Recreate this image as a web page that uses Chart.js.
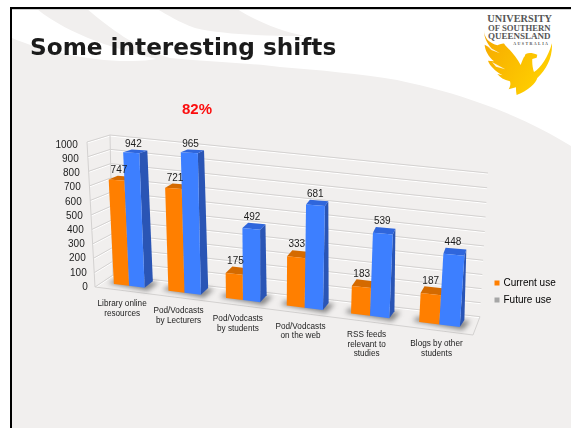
<!DOCTYPE html>
<html lang="en">
<head>
<meta charset="utf-8">
<title>Some interesting shifts</title>
<script src="https://cdn.jsdelivr.net/npm/chart.js@4/dist/chart.umd.min.js"></script>
<style>
  html, body { margin: 0; padding: 0; background: #fff; }
  #slide { position: relative; width: 571px; height: 428px; overflow: hidden; }
  #slide svg, #slide canvas { position: absolute; left: 0; top: 0; }
  #heading { position: absolute; left: 30px; top: 33px; margin: 0; font: bold 23.2px "DejaVu Sans", sans-serif; color: #1b1b1b; white-space: nowrap; }
  #callout { position: absolute; left: 182px; top: 100px; font: bold 15px "Liberation Sans", sans-serif; color: #fb0d0d; }
</style>
</head>
<body>
<div id="slide">
  <svg width="571" height="428" viewBox="0 0 571 428">
    <defs>
      <linearGradient id="gold" x1="0" y1="0" x2="1" y2="0.6">
        <stop offset="0" stop-color="#f6a800"/>
        <stop offset="1" stop-color="#ffd000"/>
      </linearGradient>
    </defs>
    <!-- slide backdrop with its sweeping bands -->
    <path fill="#f1efee" d="M12,38 C40,50 90,62 133,61 C142,61 150,60 156,59 C120,50 70,36 37,9 L87,9 C110,28 135,48 170,58 C210,62 250,63 280,67 C320,70 360,74 397,80 C430,87 455,94 480,103 C515,115 545,130 571,146 L571,428 L12,428 Z"/>
    <path fill="#f1efee" d="M157,9 L237,9 C255,20 275,30 305,36 C270,36 225,35 195,28 C178,22 168,15 157,9 Z"/>
    <rect x="12" y="9" width="559" height="1" fill="#cfcfcf"/>
    <rect x="10" y="7" width="561" height="2" fill="#000"/>
    <rect x="10" y="7" width="2" height="421" fill="#000"/>
    <!-- university crest -->
    <g transform="translate(280 0) scale(0.3333)">
      <path fill="url(#gold)" d="M612,90 C612,112 625,128 652,136 C668,130 672,128 675,135 C695,155 712,175 722,195 C727,182 730,172 735,168 C733,160 750,154 772,164 L770,173 L757,177 C756,190 758,205 762,216 C782,205 805,170 816,130 C818,172 800,208 772,234 C768,250 745,272 710,285 C708,275 708,268 708,262 L686,268 C692,258 692,250 690,244 C672,240 660,232 652,222 L668,226 C645,212 630,198 624,182 L642,184 C625,170 615,150 614,134 L636,146 C620,130 612,112 612,90 Z"/>
      <path fill="#fff" opacity="0.85" d="M622,138 L660,160 L634,150 Z M636,186 L676,208 L648,200 Z"/>
      <g font-family="Liberation Serif" font-weight="bold" fill="#555" text-anchor="start">
        <text x="622" y="67" font-size="31" textLength="194" lengthAdjust="spacingAndGlyphs">UNIVERSITY</text>
        <text x="624" y="92" font-size="26" textLength="188" lengthAdjust="spacingAndGlyphs">OF SOUTHERN</text>
        <text x="624" y="116" font-size="27" textLength="188" lengthAdjust="spacingAndGlyphs">QUEENSLAND</text>
        <text x="700" y="135" font-size="12" textLength="104" lengthAdjust="spacing">AUSTRALIA</text>
      </g>
    </g>
  </svg>
  <canvas id="usage" width="571" height="428"></canvas>
  <h1 id="heading">Some interesting shifts</h1>
  <div id="callout">82%</div>
</div>
<script>
// Survey results: current and expected use of each learning resource.
const categories = [
  ['Library online', 'resources'],
  ['Pod/Vodcasts', 'by Lecturers'],
  ['Pod/Vodcasts', 'by students'],
  ['Pod/Vodcasts', 'on the web'],
  ['RSS feeds', 'relevant to', 'studies'],
  ['Blogs by other', 'students']
];
const currentUse = [747, 721, 175, 333, 183, 187];
const futureUse = [942, 965, 492, 681, 539, 448];
const seriesNames = ['Current use', 'Future use'];
const valueTicks = [0, 100, 200, 300, 400, 500, 600, 700, 800, 900, 1000];

const FONT = '"Liberation Sans", Arial, sans-serif';
const palette = [
  { front: '#ff7f00', side: '#c96400', top: '#d46a00', key: '#ff7f00' },
  { front: '#3d7fff', side: '#2a55b5', top: '#2f66dc', key: '#a6a6a6' }
];

// Builds a mapping from the unit square onto a four-cornered plane,
// given as [bottom-left, bottom-right, top-right, top-left].
function planeMap(q) {
  const [[x0, y0], [x1, y1], [x2, y2], [x3, y3]] = q;
  const dx1 = x1 - x2, dx2 = x3 - x2, sx = x0 - x1 + x2 - x3;
  const dy1 = y1 - y2, dy2 = y3 - y2, sy = y0 - y1 + y2 - y3;
  const det = dx1 * dy2 - dx2 * dy1;
  const g = (sx * dy2 - dx2 * sy) / det;
  const h = (dx1 * sy - sx * dy1) / det;
  const a = x1 - x0 + g * x1, b = x3 - x0 + h * x3;
  const d = y1 - y0 + g * y1, e = y3 - y0 + h * y3;
  return (s, r) => {
    const w = g * s + h * r + 1;
    return [(a * s + b * r + x0) / w, (d * s + e * r + y0) / w];
  };
}

// Planes of the tilted view: bar fronts, bar backs, rear wall, open front edge.
const barFront = planeMap([[102.5, 282.5], [475.5, 329], [487, 164], [95, 142]]);
const barBack = planeMap([[111.5, 276], [480, 322], [485, 160.5], [104.5, 139.8]]);
const rearWall = planeMap([[113, 275], [480, 316.7], [488, 173], [110, 135]]);
const frontEdge = planeMap([[95, 287], [473, 335], [470, 165], [87, 142]]);

function polygon(ctx, pts) {
  ctx.beginPath();
  pts.forEach((p, i) => (i ? ctx.lineTo(p[0], p[1]) : ctx.moveTo(p[0], p[1])));
  ctx.closePath();
}

function segment(ctx, a, b) {
  ctx.beginPath();
  ctx.moveTo(a[0], a[1]);
  ctx.lineTo(b[0], b[1]);
  ctx.stroke();
}

// Converts a pixel from the chart's own scales into unit-square coordinates.
function unit(chart, px, py) {
  const { left, right, top, bottom } = chart.chartArea;
  return [(px - left) / (right - left), (bottom - py) / (bottom - top)];
}

const perspectiveView = {
  id: 'perspectiveView',

  // The bars are painted in afterDatasetsDraw as solid blocks.
  beforeDatasetDraw() { return false; },

  afterLayout(chart) {
    // Legend sits beside the chart, low on the right.
    const lg = chart.legend;
    const w = lg.width;
    lg.left = 488.5; lg.right = lg.left + w;
    lg.top = 271; lg.bottom = 330;
  },

  beforeDatasetsDraw(chart) {
    const ctx = chart.ctx, yScale = chart.scales.y, xScale = chart.scales.x;
    ctx.save();

    // Wall and floor rules, one per value tick.
    ctx.lineWidth = 1;
    yScale.ticks.forEach((tick, i) => {
      const r = unit(chart, 0, yScale.getPixelForTick(i))[1];
      const pairs = [[rearWall(0, r), rearWall(1, r)], [frontEdge(0, r), rearWall(0, r)]];
      pairs.forEach(([a, b]) => {
        ctx.strokeStyle = '#ffffff';
        segment(ctx, [a[0], a[1] + 1], [b[0], b[1] + 1]);
        ctx.strokeStyle = '#d3d1d0';
        segment(ctx, a, b);
      });
    });
    ctx.strokeStyle = '#d3d1d0';
    segment(ctx, frontEdge(0, 0), frontEdge(1, 0));
    segment(ctx, frontEdge(1, 0), rearWall(1, 0));
    segment(ctx, frontEdge(0, 0), frontEdge(0, 1));
    segment(ctx, rearWall(0, 0), rearWall(0, 1));

    // Soft shadow on the floor under each pair of bars.
    const first = chart.getDatasetMeta(0).data;
    const last = chart.getDatasetMeta(1).data;
    ctx.filter = 'blur(2.5px)';
    ctx.fillStyle = 'rgba(70,70,70,0.62)';
    first.forEach((bar, i) => {
      const sL = unit(chart, bar.x - bar.width / 2, 0)[0];
      const sR = unit(chart, last[i].x + last[i].width / 2, 0)[0];
      const a = barFront(sL, 0), b = barFront(sR, 0), c = barBack(sR, 0), d = barBack(sL, 0);
      polygon(ctx, [[a[0] - 6, a[1] - 1], [b[0] + 3, b[1] + 3], [c[0] + 6, c[1] + 1], [d[0] - 7, d[1] + 2]]);
      ctx.fill();
    });
    ctx.restore();

    // Value axis numbers follow the slant of the open edge.
    ctx.save();
    ctx.font = '10px ' + FONT;
    ctx.fillStyle = '#1c1c1c';
    ctx.textAlign = 'right';
    ctx.textBaseline = 'middle';
    yScale.ticks.forEach((tick, i) => {
      const py = yScale.getPixelForTick(i);
      const r = unit(chart, 0, py)[1];
      ctx.fillText(String(tick.value), 87.7 - 10 * r, py);
    });

    // Category names hang below the front edge of the floor.
    ctx.font = '8.2px ' + FONT;
    ctx.textAlign = 'center';
    xScale.ticks.forEach((tick, i) => {
      const s = unit(chart, xScale.getPixelForTick(i), 0)[0];
      const p = frontEdge(s, 0);
      [].concat(tick.label).forEach((line, n) => {
        ctx.fillText(line, p[0], p[1] + 13.5 + n * 9.6);
      });
    });
    ctx.restore();
  },

  afterDatasetsDraw(chart) {
    const ctx = chart.ctx;
    const metas = [chart.getDatasetMeta(0), chart.getDatasetMeta(1)];
    ctx.save();
    categories.forEach((_, i) => {
      metas.forEach((meta, d) => {
        const bar = meta.data[i], tone = palette[d];
        const [sL, r] = unit(chart, bar.x - bar.width / 2, bar.y);
        const [sR] = unit(chart, bar.x + bar.width / 2, bar.y);
        const fBL = barFront(sL, 0), fBR = barFront(sR, 0), fTL = barFront(sL, r), fTR = barFront(sR, r);
        const bBR = barBack(sR, 0), bTL = barBack(sL, r), bTR = barBack(sR, r);
        ctx.fillStyle = tone.side;
        polygon(ctx, [fBR, bBR, bTR, fTR]);
        ctx.fill();
        ctx.fillStyle = tone.top;
        polygon(ctx, [fTL, fTR, bTR, bTL]);
        ctx.fill();
        ctx.fillStyle = tone.front;
        polygon(ctx, [fBL, fBR, fTR, fTL]);
        ctx.fill();
      });
    });

    // Value printed just above the top face of every bar.
    ctx.font = '10px ' + FONT;
    ctx.fillStyle = '#1c1c1c';
    ctx.textAlign = 'center';
    ctx.textBaseline = 'middle';
    metas.forEach((meta, d) => {
      meta.data.forEach((bar, i) => {
        const [sL, r] = unit(chart, bar.x - bar.width / 2, bar.y);
        const [sR] = unit(chart, bar.x + bar.width / 2, bar.y);
        const a = barFront(sL, r), b = barFront(sR, r), c = barBack(sL, r), e = barBack(sR, r);
        const cx = (a[0] + b[0] + c[0] + e[0]) / 4;
        const topY = Math.min(c[1], e[1]);
        ctx.fillText(String(chart.data.datasets[d].data[i]), cx - 2, topY - 5.5);
      });
    });
    ctx.restore();
  }
};

new Chart(document.getElementById('usage'), {
  type: 'bar',
  plugins: [perspectiveView],
  data: {
    labels: categories,
    datasets: [
      { label: seriesNames[0], data: currentUse, backgroundColor: palette[0].front },
      { label: seriesNames[1], data: futureUse, backgroundColor: palette[1].front }
    ]
  },
  options: {
    responsive: false,
    animation: false,
    layout: { padding: { left: 88, right: 10, top: 145, bottom: 133 } },
    datasets: { bar: { categoryPercentage: 0.57, barPercentage: 1 } },
    scales: {
      x: { grid: { display: false }, border: { display: false }, ticks: { display: false } },
      y: {
        min: valueTicks[0],
        max: valueTicks[valueTicks.length - 1],
        afterBuildTicks(scale) { scale.ticks = valueTicks.map(value => ({ value })); },
        grid: { display: false },
        border: { display: false },
        ticks: { display: false, stepSize: 100 }
      }
    },
    plugins: {
      title: { display: false },
      tooltip: { enabled: false },
      legend: {
        position: 'right',
        align: 'start',
        labels: {
          boxWidth: 3,
          boxHeight: 3,
          padding: 7,
          color: '#222',
          font: { family: FONT, size: 10 },
          generateLabels: () => seriesNames.map((name, d) => ({
            text: name,
            fillStyle: palette[d].key,
            strokeStyle: palette[d].key,
            lineWidth: 2,
            datasetIndex: d
          }))
        }
      }
    }
  }
});
</script>
</body>
</html>
